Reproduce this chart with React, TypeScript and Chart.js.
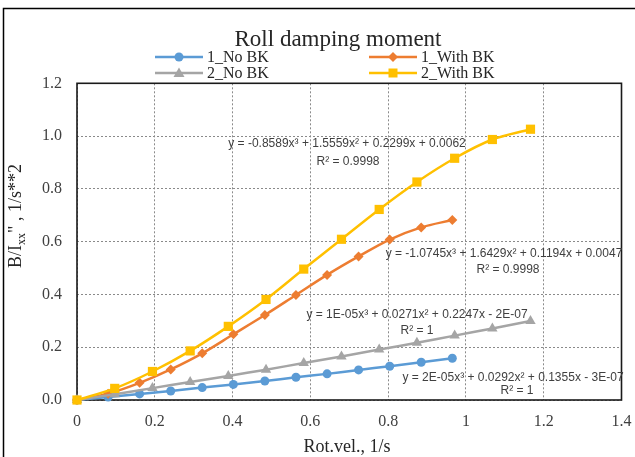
import React, { useEffect, useRef } from "react";
import { Chart, registerables } from "chart.js";

Chart.register(...registerables);

// Rotational velocity (1/s) for case 1 and case 2
const velocity1 = [0, 0.08, 0.161, 0.241, 0.322, 0.402, 0.483, 0.563, 0.643, 0.724, 0.804, 0.885, 0.965];
const velocity2 = [0, 0.097, 0.194, 0.291, 0.389, 0.486, 0.583, 0.68, 0.777, 0.874, 0.971, 1.068, 1.166];

// B/Ixx'' values
const noBK1 = [0, 0.011, 0.023, 0.034, 0.047, 0.059, 0.072, 0.086, 0.099, 0.114, 0.128, 0.143, 0.158];
const withBK1 = [0, 0.024, 0.065, 0.116, 0.177, 0.249, 0.322, 0.398, 0.474, 0.544, 0.608, 0.654, 0.682];
const noBK2 = [0, 0.022, 0.045, 0.068, 0.091, 0.115, 0.14, 0.165, 0.191, 0.217, 0.244, 0.271, 0.299];
const withBK2 = [0, 0.044, 0.108, 0.186, 0.279, 0.381, 0.496, 0.609, 0.722, 0.826, 0.916, 0.987, 1.026];

const seriesNames = ["1_No BK", "1_With BK", "2_No BK", "2_With BK"];
const seriesColors = ["#5B9BD5", "#ED7D31", "#A5A5A5", "#FFC000"];
const seriesMarkers = ["circle", "rectRot", "triangle", "rect"];

const equations = [
  { text: "y = -0.8589x³ + 1.5559x² + 0.2299x + 0.0062", r2: "R² = 0.9998", x: 347, y: 144, rx: 348, ry: 162 },
  { text: "y = -1.0745x³ + 1.6429x² + 0.1194x + 0.0047", r2: "R² = 0.9998", x: 504, y: 254, rx: 508, ry: 270 },
  { text: "y = 1E-05x³ + 0.0271x² + 0.2247x - 2E-07", r2: "R² = 1", x: 417, y: 315, rx: 417, ry: 331 },
  { text: "y = 2E-05x³ + 0.0292x² + 0.1355x - 3E-07", r2: "R² = 1", x: 513, y: 378, rx: 517, ry: 391 },
];

const xTicks = [0, 0.2, 0.4, 0.6, 0.8, 1, 1.2, 1.4];
const yTicks = [0, 0.2, 0.4, 0.6, 0.8, 1.0, 1.2];

const SERIF = "'Liberation Serif', 'Times New Roman', serif";
const SANS = "'Liberation Sans', Arial, sans-serif";

function drawMarker(ctx: CanvasRenderingContext2D, kind: string, x: number, y: number, color: string) {
  ctx.save();
  ctx.fillStyle = color;
  ctx.beginPath();
  if (kind === "circle") {
    ctx.arc(x, y, 4.5, 0, Math.PI * 2);
  } else if (kind === "rectRot") {
    ctx.moveTo(x, y - 5);
    ctx.lineTo(x + 5, y);
    ctx.lineTo(x, y + 5);
    ctx.lineTo(x - 5, y);
    ctx.closePath();
  } else if (kind === "triangle") {
    ctx.moveTo(x, y - 5.5);
    ctx.lineTo(x + 5.5, y + 4);
    ctx.lineTo(x - 5.5, y + 4);
    ctx.closePath();
  } else {
    ctx.rect(x - 4.5, y - 4.5, 9, 9);
  }
  ctx.fill();
  ctx.restore();
}

const decor = {
  id: "decor",
  beforeDatasetsDraw(chart: any) {
    const { ctx, chartArea: a } = chart;
    ctx.save();
    ctx.strokeStyle = "#1a1a1a";
    ctx.lineWidth = 1.6;
    ctx.strokeRect(a.left, a.top, a.right - a.left, a.bottom - a.top);
    ctx.restore();
  },
  afterDraw(chart: any) {
    const { ctx } = chart;
    ctx.save();
    // outer frame
    ctx.strokeStyle = "#000";
    ctx.lineWidth = 1.5;
    ctx.beginPath();
    ctx.moveTo(3.5, 460);
    ctx.lineTo(3.5, 8.5);
    ctx.lineTo(640, 8.5);
    ctx.stroke();

    // title
    ctx.fillStyle = "#262626";
    ctx.font = `23px ${SERIF}`;
    ctx.textAlign = "center";
    ctx.textBaseline = "middle";
    ctx.fillText("Roll damping moment", 338, 40);

    // legend
    const cols = [155, 369];
    const rows = [57, 73];
    ctx.font = `16px ${SERIF}`;
    ctx.textAlign = "left";
    seriesNames.forEach((name, i) => {
      const cx = cols[i % 2];
      const cy = rows[Math.floor(i / 2)];
      ctx.strokeStyle = seriesColors[i];
      ctx.lineWidth = 2.5;
      ctx.beginPath();
      ctx.moveTo(cx, cy);
      ctx.lineTo(cx + 48, cy);
      ctx.stroke();
      drawMarker(ctx, seriesMarkers[i], cx + 24, cy, seriesColors[i]);
      ctx.fillStyle = "#262626";
      ctx.fillText(name, cx + 52, cy + 1);
    });

    // x axis title
    ctx.font = `18px ${SERIF}`;
    ctx.textAlign = "center";
    ctx.fillStyle = "#262626";
    ctx.fillText("Rot.vel., 1/s", 347, 447);

    // y axis title with subscript
    ctx.save();
    ctx.translate(15, 216);
    ctx.rotate(-Math.PI / 2);
    ctx.textAlign = "left";
    ctx.textBaseline = "alphabetic";
    const big = `18px ${SERIF}`;
    const small = `12px ${SERIF}`;
    const parts: [string, string, number][] = [
      ["B/I", big, 0],
      ["xx", small, 4],
      ["\" , 1/s**2", big, 0],
    ];
    let total = 0;
    parts.forEach(([t, f]) => {
      ctx.font = f;
      total += ctx.measureText(t).width;
    });
    let px = -total / 2;
    parts.forEach(([t, f, dy]) => {
      ctx.font = f;
      ctx.fillText(t, px, 6 + dy);
      px += ctx.measureText(t).width;
    });
    ctx.restore();

    // trendline equations
    ctx.font = `12px ${SANS}`;
    ctx.fillStyle = "#404040";
    ctx.textAlign = "center";
    ctx.textBaseline = "middle";
    equations.forEach((e) => {
      ctx.fillText(e.text, e.x, e.y);
      ctx.fillText(e.r2, e.rx, e.ry);
    });
    ctx.restore();
  },
};

export default function App() {
  const ref = useRef<HTMLCanvasElement | null>(null);

  useEffect(() => {
    if (!ref.current) return;
    const series = [
      { x: velocity1, y: noBK1 },
      { x: velocity1, y: withBK1 },
      { x: velocity2, y: noBK2 },
      { x: velocity2, y: withBK2 },
    ];
    const drawOrder = [3, 2, 1, 0];
    const chart = new Chart(ref.current, {
      type: "line",
      data: {
        datasets: series.map((s, i) => ({
          label: seriesNames[i],
          data: s.x.map((xv, k) => ({ x: xv, y: s.y[k] })),
          borderColor: seriesColors[i],
          backgroundColor: seriesColors[i],
          borderWidth: 2.5,
          pointStyle: seriesMarkers[i] as any,
          pointRadius: i === 0 ? 4.5 : i === 1 ? 5 : i === 2 ? 6 : 6.5,
          pointBorderWidth: 0,
          pointBackgroundColor: seriesColors[i],
          tension: 0.35,
          fill: false,
          clip: false as any,
          order: drawOrder[i],
        })),
      },
      options: {
        animation: false,
        responsive: true,
        maintainAspectRatio: false,
        layout: { padding: { left: 0, right: 13.5, top: 83.3, bottom: 0 } },
        plugins: {
          legend: { display: false },
          title: { display: false },
          tooltip: { enabled: false },
        },
        scales: {
          x: {
            type: "linear",
            min: 0,
            max: 1.4,
            afterFit: (s: any) => {
              s.height = 57;
              s.paddingLeft = 0;
              s.paddingRight = 0;
            },
            afterBuildTicks: (s: any) => {
              s.ticks = xTicks.map((v) => ({ value: v }));
            },
            ticks: {
              padding: 12,
              color: "#404040",
              font: { family: SERIF, size: 16 },
              callback: (v: any) => String(Math.round(Number(v) * 10) / 10),
            },
            grid: { color: "#8a8a8a", lineWidth: 1, drawTicks: false },
            border: { display: false, dash: [2, 2] },
          },
          y: {
            type: "linear",
            min: 0,
            max: 1.2,
            afterFit: (s: any) => {
              s.width = 77;
              s.paddingTop = 0;
              s.paddingBottom = 0;
            },
            afterBuildTicks: (s: any) => {
              s.ticks = yTicks.map((v) => ({ value: v }));
            },
            ticks: {
              padding: 15,
              color: "#404040",
              font: { family: SERIF, size: 16 },
              callback: (v: any) => Number(v).toFixed(1),
            },
            grid: { color: "#8a8a8a", lineWidth: 1, drawTicks: false },
            border: { display: false, dash: [2, 2] },
          },
        },
      },
      plugins: [decor],
    });
    return () => chart.destroy();
  }, []);

  return (
    <div style={{ position: "fixed", left: 0, top: 0, width: 635, height: 457, background: "#fff" }}>
      <canvas ref={ref} />
    </div>
  );
}
